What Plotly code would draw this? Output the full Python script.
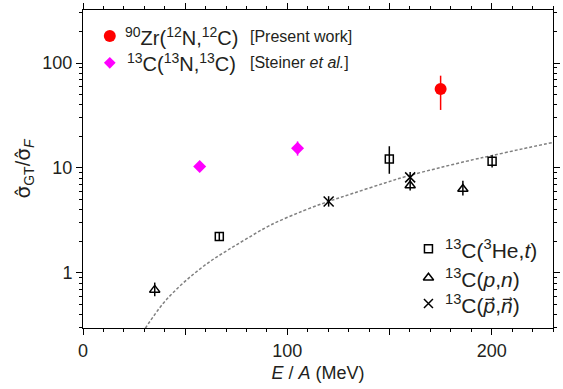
import plotly.graph_objects as go

# ---- data ----
zr_E = [175.0]
zr_R = [56.5]
zr_up = [19.2]
zr_dn = [20.8]

st_E = [57.1, 105.0]
st_R = [10.3, 15.4]
st_up = [0.6, 2.5]
st_dn = [0.6, 2.3]

he_E = [66.7, 149.9, 200.2]
he_R = [2.22, 12.2, 11.6]
he_up = [0.2, 3.9, 1.6]
he_dn = [0.2, 3.4, 1.5]

pn_E = [35.1, 160.1, 185.9]
pn_R = [0.689, 6.8, 6.31]
pn_up = [0.12, 0.8, 1.26]
pn_dn = [0.09, 0.7, 0.86]

pp_E = [120.2, 160.1]
pp_R = [4.78, 8.13]
pp_up = [0.6, 1.0]
pp_dn = [0.5, 0.9]

curve_E = [30.5, 38.8, 46.8, 54.8, 62.8, 70.9, 80.5, 91.7, 107.7, 120.2, 131.8,
           147.8, 159.0, 175.0, 191.0, 200.0, 215.0, 230.0]
curve_R = [0.297, 0.50, 0.73, 1.0, 1.31, 1.65, 2.14, 2.85, 3.9, 4.8, 5.7,
           7.2, 8.4, 10.1, 12.0, 13.1, 15.2, 17.5]

x_tickvals = [0, 50, 100, 150, 200]
x_ticktext = ["0", "", "100", "", "200"]
x_minorvals = [v for v in range(0, 231, 10) if v % 50]
y_tickvals = [1, 10, 100]
y_ticktext = ["1", "10", "100"]
y_minorvals = [m * d for d in (0.1, 1, 10, 100) for m in range(2, 10) if 0.29 < m * d < 330]

FONT = "Liberation Sans, Arial, sans-serif"
TXT = "#231f20"

fig = go.Figure()

fig.add_trace(go.Scatter(x=curve_E, y=curve_R, mode="lines", line_shape="spline",
                         line=dict(color="#808080", width=1.5, dash="3px,2px"),
                         hoverinfo="skip"))


def pts(E, R, up, dn, sym, color, size, lw=1.5):
    fig.add_trace(go.Scatter(
        x=E, y=R, mode="markers",
        marker=dict(symbol=sym, size=size, color=color,
                    line=dict(color=color, width=lw)),
        error_y=dict(type="data", symmetric=False, array=up, arrayminus=dn,
                     color=color, thickness=1.5, width=0)))


pts(he_E, he_R, he_up, he_dn, "square-open", "black", 8)
pts(pn_E, pn_R, pn_up, pn_dn, "triangle-up-open", "black", 9)
pts(pp_E, pp_R, pp_up, pp_dn, "x-thin", "black", 10)
pts(st_E, st_R, st_up, st_dn, "diamond", "#ff00ff", 10, 0)
pts(zr_E, zr_R, zr_up, zr_dn, "circle", "#ff0000", 12, 0)

# ---- legend markers on an overlay axis in plot fractions ----
leg_sym = ["circle", "diamond", "square-open", "triangle-up-open", "x-thin"]
leg_col = ["#ff0000", "#ff00ff", "black", "black", "black"]
leg_size = [12, 9, 8, 9, 9]
leg_x = [0.057, 0.057, 0.735, 0.735, 0.735]
leg_y = [0.918, 0.834, 0.249, 0.158, 0.077]
for s, c, z, lx, ly in zip(leg_sym, leg_col, leg_size, leg_x, leg_y):
    fig.add_trace(go.Scatter(x=[lx], y=[ly], xaxis="x2", yaxis="y2", mode="markers",
                             marker=dict(symbol=s, size=z, color=c,
                                         line=dict(color=c, width=1.5 if c == "black" else 0)),
                             hoverinfo="skip"))

AR = "<span style='font-family:DejaVu Sans'>\u20d7</span>"
leg_texts = [
    (0.085, 0.918, "<sup>90</sup>Zr(<sup>12</sup>N,<sup>12</sup>C)", 20),
    (0.35, 0.918, "[Present work]", 16),
    (0.089, 0.834, "<sup>13</sup>C(<sup>13</sup>N,<sup>13</sup>C)", 20),
    (0.35, 0.834, "[Steiner <i>et al.</i>]", 16),
    (0.765, 0.249, "<sup>13</sup>C(<sup>3</sup>He,<i>t</i>)", 21),
    (0.765, 0.158, "<sup>13</sup>C(<i>p</i>,<i>n</i>)", 21),
    (0.765, 0.077, "<sup>13</sup>C(<i>p" + AR + "</i>,<i>n" + AR + "</i>)", 21),
]
annotations = [dict(x=x, y=y, xref="paper", yref="paper", text=t, showarrow=False,
                    xanchor="left", yanchor="middle", font=dict(size=fs, color=TXT, family=FONT))
               for x, y, t, fs in leg_texts]

SIG = "<span style='font-family:DejaVu Sans'>\u03c3\u0302</span>"

fig.update_layout(
    width=563, height=389,
    margin=dict(l=83, r=3, t=9, b=61),
    paper_bgcolor="white", plot_bgcolor="white",
    showlegend=False,
    font=dict(family=FONT, size=18, color=TXT),
    annotations=annotations,
    xaxis=dict(range=[0, 230], tickmode="array", tickvals=x_tickvals, ticktext=x_ticktext,
               ticks="outside", ticklen=6, tickwidth=1, tickcolor="black",
               minor=dict(ticks="outside", ticklen=3, tickmode="array", tickvals=x_minorvals,
                          tickcolor="black", showgrid=False),
               showline=True, linecolor="black", linewidth=1, mirror="ticks",
               showgrid=False, zeroline=False,
               tickfont=dict(size=18),
               title=dict(text="<i>E</i> / <i>A</i> (MeV)", font=dict(size=18), standoff=6)),
    yaxis=dict(type="log", range=[-0.525, 2.505], tickmode="array",
               tickvals=y_tickvals, ticktext=y_ticktext,
               ticks="outside", ticklen=6, tickwidth=1, tickcolor="black",
               minor=dict(ticks="outside", ticklen=3, tickmode="array", tickvals=y_minorvals,
                          tickcolor="black", showgrid=False),
               showline=True, linecolor="black", linewidth=1, mirror="ticks",
               showgrid=False, zeroline=False,
               tickfont=dict(size=18),
               title=dict(text=SIG + "<sub>GT</sub>/" + SIG + "<sub><i>F</i></sub>",
                          font=dict(size=20), standoff=6)),
    xaxis2=dict(overlaying="x", range=[0, 1], visible=False),
    yaxis2=dict(overlaying="y", range=[0, 1], visible=False),
)

fig.write_html("out.html")
